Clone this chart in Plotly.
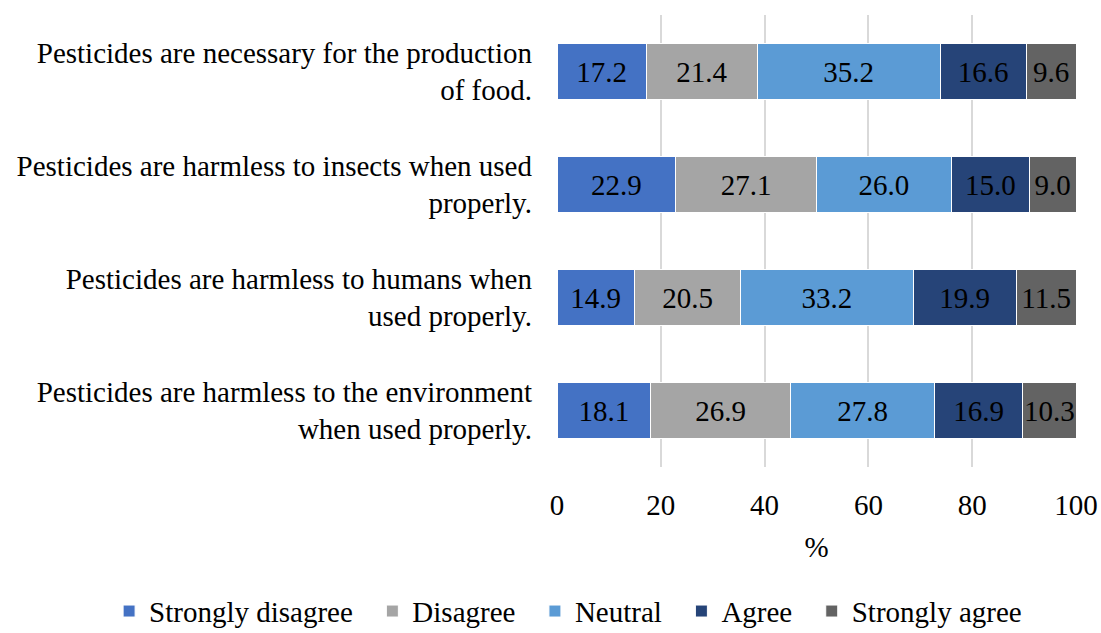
import plotly.graph_objects as go

statements = [
    "Pesticides are necessary for the production<br>of food.",
    "Pesticides are harmless to insects when used<br>properly.",
    "Pesticides are harmless to humans when<br>used properly.",
    "Pesticides are harmless to the environment<br>when used properly.",
]

strongly_disagree = [17.2, 22.9, 14.9, 18.1]
disagree = [21.4, 27.1, 20.5, 26.9]
neutral = [35.2, 26.0, 33.2, 27.8]
agree = [16.6, 15.0, 19.9, 16.9]
strongly_agree = [9.6, 9.0, 11.5, 10.3]

x_ticks = [0, 20, 40, 60, 80, 100]

series = [
    ("Strongly disagree", strongly_disagree, "#4472C4"),
    ("Disagree", disagree, "#A5A5A5"),
    ("Neutral", neutral, "#5B9BD5"),
    ("Agree", agree, "#264478"),
    ("Strongly agree", strongly_agree, "#636363"),
]

FONT = "Liberation Serif, Times New Roman, serif"
SIZE = 29
# en space after each legend entry widens the gap between entries
ENTRY_PAD = "\u2002"

fig = go.Figure()
for i, (name, vals, color) in enumerate(series):
    label = name if i == len(series) - 1 else name + ENTRY_PAD
    fig.add_trace(go.Bar(
        y=statements,
        x=vals,
        name=label,
        orientation="h",
        marker=dict(color=color, line=dict(color="white", width=1)),
        text=[f"{v:.1f}" for v in vals],
        textposition="inside",
        insidetextanchor="middle",
        textangle=0,
        constraintext="none",
        textfont=dict(family=FONT, size=SIZE, color="black"),
        hoverinfo="skip",
    ))

fig.update_layout(
    barmode="stack",
    bargap=0.5,
    width=1101,
    height=633,
    margin=dict(l=557, r=25, t=15, b=166, autoexpand=False),
    paper_bgcolor="white",
    plot_bgcolor="white",
    font=dict(family=FONT, size=SIZE, color="black"),
    showlegend=True,
    legend=dict(
        orientation="h",
        x=-0.863,
        xanchor="left",
        y=-0.319,
        yanchor="middle",
        font=dict(family=FONT, size=SIZE, color="black"),
        traceorder="normal",
        itemwidth=30,
    ),
)

fig.update_xaxes(
    range=[0, 100],
    tickvals=x_ticks,
    ticktext=[str(t) for t in x_ticks],
    showgrid=True,
    gridcolor="#D9D9D9",
    gridwidth=2,
    zeroline=False,
    showline=False,
    ticklabelstandoff=18,
    tickfont=dict(family=FONT, size=SIZE, color="black"),
    title=dict(text="%", font=dict(family=FONT, size=SIZE, color="black"), standoff=16),
)

fig.update_yaxes(
    autorange="reversed",
    showgrid=False,
    showline=False,
    ticklabelstandoff=24,
    tickfont=dict(family=FONT, size=SIZE, color="black"),
)

fig.write_html("out.html")
